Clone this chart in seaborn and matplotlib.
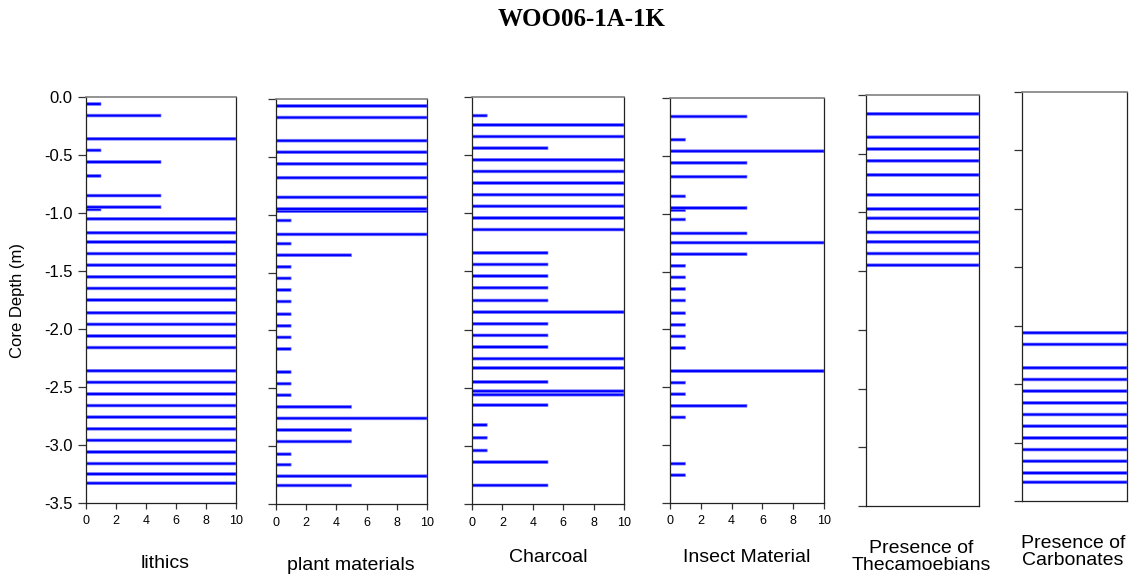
import numpy as np
import pandas as pd
import seaborn as sns
from matplotlib import pyplot as plt

# depths (m, negative = below surface) and counts
lithics_depth = [-0.06, -0.16, -0.36, -0.46, -0.56, -0.68, -0.85, -0.95, -0.97, -1.05,
                 -1.17, -1.25, -1.35, -1.45, -1.55, -1.65, -1.75, -1.86, -1.96, -2.06,
                 -2.16, -2.36, -2.46, -2.56, -2.66, -2.76, -2.86, -2.96, -3.06, -3.16,
                 -3.25, -3.33]
lithics_val = [1, 5, 10, 1, 5, 1, 5, 5, 1, 10,
               10, 10, 10, 10, 10, 10, 10, 10, 10, 10,
               10, 10, 10, 10, 10, 10, 10, 10, 10, 10,
               10, 10]

plant_depth = [-0.06, -0.16, -0.36, -0.46, -0.56, -0.68, -0.85, -0.95, -0.97, -1.05,
               -1.17, -1.25, -1.35, -1.45, -1.55, -1.65, -1.75, -1.86, -1.96, -2.06,
               -2.16, -2.36, -2.46, -2.56, -2.66, -2.76, -2.86, -2.96, -3.07, -3.16,
               -3.26, -3.34]
plant_val = [10, 10, 10, 10, 10, 10, 10, 10, 10, 1,
             10, 1, 5, 1, 1, 1, 1, 1, 1, 1,
             1, 1, 1, 1, 5, 10, 5, 5, 1, 1,
             10, 5]

charcoal_depth = [-0.16, -0.24, -0.34, -0.44, -0.54, -0.64, -0.74, -0.84, -0.94, -1.04,
                  -1.14, -1.34, -1.44, -1.54, -1.64, -1.75, -1.85, -1.95, -2.05, -2.15,
                  -2.25, -2.33, -2.45, -2.53, -2.56, -2.65, -2.82, -2.93, -3.04, -3.14,
                  -3.34]
charcoal_val = [1, 10, 10, 5, 10, 10, 10, 10, 10, 10,
                10, 5, 5, 5, 5, 5, 10, 5, 5, 5,
                10, 10, 5, 10, 10, 5, 1, 1, 1, 5,
                5]

insect_depth = [-0.16, -0.36, -0.46, -0.56, -0.68, -0.85, -0.95, -0.97, -1.05, -1.17,
                -1.25, -1.35, -1.45, -1.55, -1.65, -1.75, -1.86, -1.96, -2.06, -2.16,
                -2.36, -2.46, -2.56, -2.66, -2.76, -3.16, -3.26]
insect_val = [5, 1, 10, 5, 5, 1, 5, 1, 1, 5,
              10, 5, 1, 1, 1, 1, 1, 1, 1, 1,
              10, 1, 1, 5, 1, 1, 1]

theca_depth = [-0.16, -0.36, -0.46, -0.56, -0.68, -0.85, -0.97, -1.05, -1.17, -1.25,
               -1.35, -1.45]
theca_val = [1, 1, 1, 1, 1, 1, 1, 1, 1, 1,
             1, 1]

carb_depth = [-2.06, -2.16, -2.36, -2.46, -2.56, -2.66, -2.76, -2.86, -2.96, -3.06,
              -3.16, -3.26, -3.34]
carb_val = [1, 1, 1, 1, 1, 1, 1, 1, 1, 1,
            1, 1, 1]

plt.rcParams['axes.unicode_minus'] = False
plt.rcParams['font.family'] = ['Liberation Sans', 'DejaVu Sans']

W, H = 1130, 579
fig = plt.figure(figsize=(W / 100, H / 100), dpi=100)

# panel boxes in pixels: left, top, right, bottom
panels = [
    ("lithics", lithics_depth, lithics_val, (86, 97, 236, 503), 10),
    ("plant materials", plant_depth, plant_val, (276, 99, 427, 504), 10),
    ("Charcoal", charcoal_depth, charcoal_val, (472, 97, 624, 504), 10),
    ("Insect Material", insect_depth, insect_val, (670, 98, 824, 503), 10),
    ("Presence of\nThecamoebians", theca_depth, theca_val, (866, 95, 979, 506), 1),
    ("Presence of\nCarbonates", carb_depth, carb_val, (1022, 92, 1127, 501), 1),
]
label_pos = [(165, 563), (351, 566), (548, 558), (747, 558), (921, 557), (1073, 552)]

thick = 0.024
for i, (name, depth, val, box, xmax) in enumerate(panels):
    l, t, r, b = box
    ax = fig.add_axes([l / W, (H - b) / H, (r - l) / W, (b - t) / H])
    df = pd.DataFrame({"depth": depth, "value": val})
    mind = np.diff(np.unique(df["depth"])).min()
    sns.barplot(data=df, x="value", y="depth", orient="y", native_scale=True,
                width=thick / mind, color="#0000ff", saturation=1, errorbar=None,
                edgecolor="#7a7aff", linewidth=0.5, ax=ax)
    for p in ax.patches:
        p.set_snap(False)
    ax.set_xlim(0, xmax)
    ax.set_ylim(-3.5, 0)
    ax.set_yticks(np.arange(-3.5, 0.01, 0.5))
    ax.set_xlabel("")
    ax.set_ylabel("")
    for side in ["left", "bottom", "right"]:
        ax.spines[side].set_color("#222222")
        ax.spines[side].set_linewidth(0.9)
    ax.spines["top"].set_color("#808080")
    ax.spines["top"].set_linewidth(1.2)
    ax.tick_params(axis="y", direction="out", length=6, width=0.9, color="#333333")
    if i == 0:
        ax.set_yticklabels([f"{v:.1f}" for v in ax.get_yticks()], fontsize=12)
    else:
        ax.set_yticklabels([])
    if xmax == 10:
        ax.set_xticks(np.arange(0, 11, 2))
        ax.tick_params(axis="x", direction="out", length=4, width=0.9, labelsize=9,
                       color="#333333", pad=5)
    else:
        ax.set_xticks([])
    lx, ly = label_pos[i]
    fig.text(lx / W, 1 - ly / H, name, ha="center", va="center", fontsize=14,
             linespacing=1.0)

fig.text(18 / W, 1 - 300 / H, "Core Depth (m)", rotation=90, ha="center", va="center",
         fontsize=12)
fig.text(582 / W, 1 - 20 / H, "WOO06-1A-1K", ha="center", va="center", fontsize=18,
         fontweight="bold", family=["Liberation Serif", "DejaVu Serif"])

fig.savefig("out.png", dpi=100)
